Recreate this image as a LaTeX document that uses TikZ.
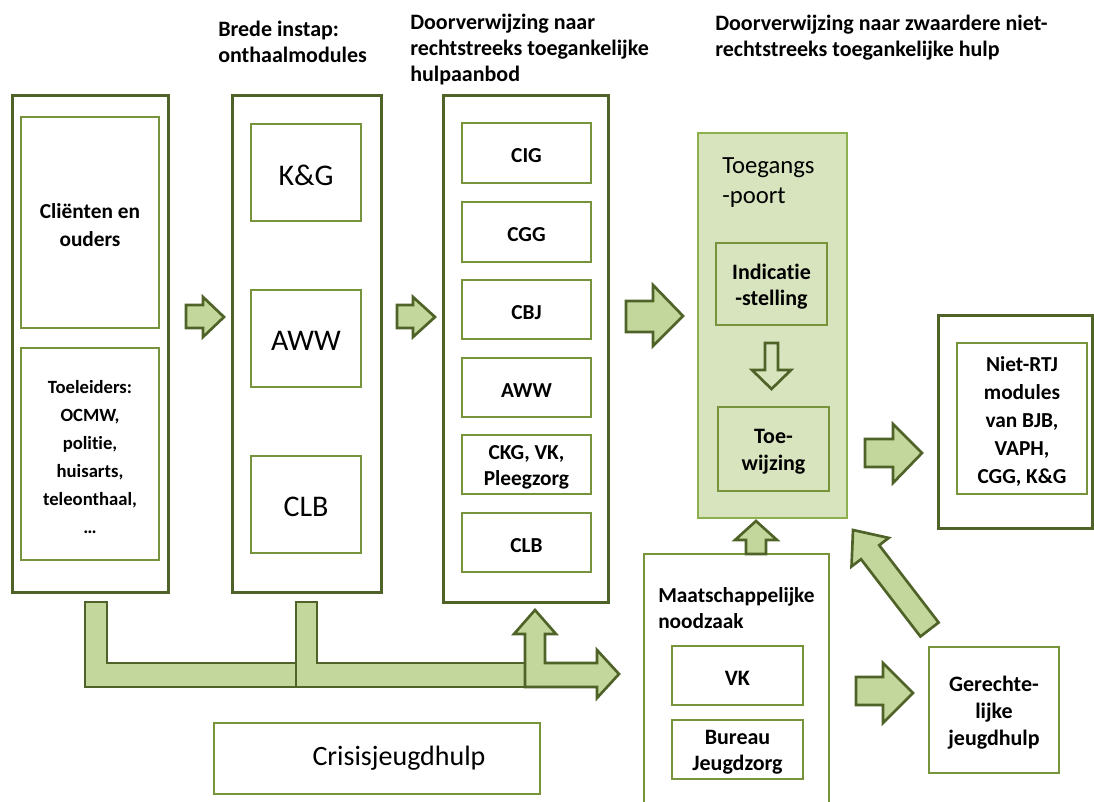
\documentclass[tikz,border=0pt]{standalone}
\usepackage{fontspec}
\setmainfont{Carlito}[Ligatures=NoCommon]
\usetikzlibrary{fit}
\definecolor{darkolive}{HTML}{4F6228}
\definecolor{midgreen}{HTML}{77933C}
\definecolor{lightgreen}{HTML}{8DB04F}
\definecolor{arrowfill}{HTML}{C3D69B}
\definecolor{palefill}{HTML}{D7E4BD}
% #1 name, #2 box style, #3 #4 corners, #5 text style, #6 text
\newcommand\labbox[6]{%
  \node[#2,fit={#3 #4}] (#1) {};
  \node[#5,align=center,inner sep=0pt,yshift=-2pt] (#1-t) at (#1.center) {#6};}
\begin{document}
\begin{tikzpicture}[x=0.75pt,y=-0.75pt,
  colbox/.style={draw=darkolive,line width=2.25pt,inner sep=0pt},
  inbox/.style={draw=midgreen,line width=2pt,inner sep=0pt},
  palebox/.style={draw=midgreen,fill=palefill,line width=2pt,inner sep=0pt},
  blockarrow/.style={draw=darkolive,fill=arrowfill,line width=2pt,line join=miter},
  headtext/.style={inner sep=0pt,align=left,font=\fontsize{16.5}{19.5}\selectfont\bfseries},
  smallbold/.style={font=\fontsize{14}{21}\selectfont\bfseries},
  clientbold/.style={font=\fontsize{16}{21}\selectfont\bfseries},
  midbold/.style={font=\fontsize{16}{19}\selectfont\bfseries},
  widebold/.style={font=\fontsize{16}{21}\selectfont\bfseries},
  bigbold/.style={font=\fontsize{16.5}{20}\selectfont\bfseries},
  bigplain/.style={font=\fontsize{22.5}{27}\selectfont},
]
\useasboundingbox (0,0) rectangle (1094,801);

% headings
\node[headtext,anchor=north west] (h1) at (218,21) {Brede instap:\\onthaalmodules};
\node[headtext,anchor=north west] (h2) at (410,14) {Doorverwijzing naar\\rechtstreeks toegankelijke\\hulpaanbod};
\node[headtext,anchor=north west] (h3) at (715,15) {Doorverwijzing naar zwaardere niet-\\rechtstreeks toegankelijke hulp};

% column 1
\node[colbox,fit={(12,95)(168,592)}] (col1) {};
\labbox{clienten}{inbox}{(21,117)}{(159,328)}{clientbold}{Cliënten en\\ouders}
\labbox{toeleiders}{inbox}{(21,348)}{(159,560)}{smallbold}{Toeleiders:\\OCMW,\\politie,\\huisarts,\\teleonthaal,\\…}

% column 2
\node[colbox,fit={(232,95)(381,592)}] (col2) {};
\labbox{kg}{inbox}{(251,124)}{(361,221)}{bigplain}{K\&G}
\labbox{aww1}{inbox}{(251,290)}{(361,387)}{bigplain}{AWW}
\labbox{clb1}{inbox}{(251,456)}{(361,553)}{bigplain}{CLB}

% column 3
\node[colbox,fit={(443,95)(608,602)}] (col3) {};
\labbox{cig}{inbox}{(462,123)}{(591,183)}{midbold}{CIG}
\labbox{cgg}{inbox}{(462,202)}{(591,262)}{midbold}{CGG}
\labbox{cbj}{inbox}{(462,280)}{(591,339)}{midbold}{CBJ}
\labbox{aww2}{inbox}{(462,358)}{(591,417)}{midbold}{AWW}
\labbox{ckg}{inbox}{(462,435)}{(591,494)}{midbold}{CKG, VK,\\Pleegzorg}
\labbox{clb2}{inbox}{(462,513)}{(591,572)}{midbold}{CLB}

% Toegangspoort
\node[draw=lightgreen,fill=palefill,line width=2pt,inner sep=0pt,fit={(698,133)(847,518)}] (toegang) {};
\node[anchor=north west,inner sep=0pt,align=left,font=\fontsize{18.5}{22.5}\selectfont] (tgtext) at (722,157) {Toegangs\\-poort};
\labbox{indicatie}{palebox}{(716,243)}{(827,325)}{bigbold}{Indicatie\\-stelling}
\labbox{toewijzing}{palebox}{(718,407)}{(829,491)}{bigbold}{Toe-\\wijzing}
\draw[draw=darkolive,fill=palefill,line width=2pt] (765,343) -- (778,343) -- (778,370) -- (791,370) -- (771.5,389) -- (752,370) -- (765,370) -- cycle;

% Niet-RTJ
\node[colbox,fit={(938,315)(1092,528)}] (nietouter) {};
\labbox{nietrtj}{inbox}{(957,343)}{(1087,494)}{widebold}{Niet-RTJ\\modules\\van BJB,\\VAPH,\\CGG, K\&G}

% Gerechtelijke jeugdhulp
\labbox{gerecht}{inbox}{(929,647)}{(1059,773)}{bigbold}{Gerechte-\\lijke\\jeugdhulp}

% Maatschappelijke noodzaak
\node[inbox,fit={(644,554)(829,812)}] (maatsch) {};
\node[anchor=north west,inner sep=0pt,align=left,font=\fontsize{16}{19.5}\selectfont\bfseries] (maattext) at (658,587) {Maatschappelijke\\noodzaak};
\labbox{vk}{inbox}{(672,646)}{(803,705)}{bigbold}{VK}
\labbox{bureau}{inbox}{(672,720)}{(803,779)}{bigbold}{Bureau\\Jeugdzorg}

% Crisisjeugdhulp
\node[inbox,fit={(214,723)(540,794)}] (crisis) {};
\node[font=\fontsize{21}{25}\selectfont,inner sep=0pt] (crisistext) at (399,758) {Crisisjeugdhulp};

% block arrows
\draw[blockarrow] (186,305) -- (203,305) -- (203,297) -- (224,317) -- (203,337) -- (203,328) -- (186,328) -- cycle;
\draw[blockarrow] (397,305) -- (413,305) -- (413,297) -- (435,317) -- (413,337) -- (413,328) -- (397,328) -- cycle;
\draw[blockarrow] (626,301) -- (653,301) -- (653,285) -- (683,316) -- (653,346) -- (653,332) -- (626,332) -- cycle;
\draw[blockarrow] (865,439) -- (893,439) -- (893,424) -- (922,453) -- (893,483) -- (893,467) -- (865,467) -- cycle;
\draw[blockarrow] (856,677) -- (883,677) -- (883,663) -- (913,693) -- (883,723) -- (883,705) -- (856,705) -- cycle;
\draw[blockarrow] (746,554) -- (746,540) -- (735,540) -- (756,521) -- (777,540) -- (766,540) -- (766,554) -- cycle;
\draw[blockarrow] (938.6,622.5) -- (879.2,545.2) -- (888.7,537.9) -- (853,530) -- (851.5,566.5) -- (861.0,559.2) -- (920.4,636.5) -- cycle;

% bottom compound arrows
\draw[blockarrow] (85,602) -- (107,602) -- (107,663) -- (310,663) -- (310,687) -- (85,687) -- cycle;
\draw[blockarrow] (296,602) -- (317,602) -- (317,663) -- (540,663) -- (540,687) -- (296,687) -- cycle;
\draw[blockarrow] (525,687) -- (525,634) -- (514,634) -- (535,610) -- (556,634) -- (545,634) -- (545,663) -- (597,663) -- (597,650) -- (619,674) -- (597,698) -- (597,687) -- cycle;
\end{tikzpicture}
\end{document}
